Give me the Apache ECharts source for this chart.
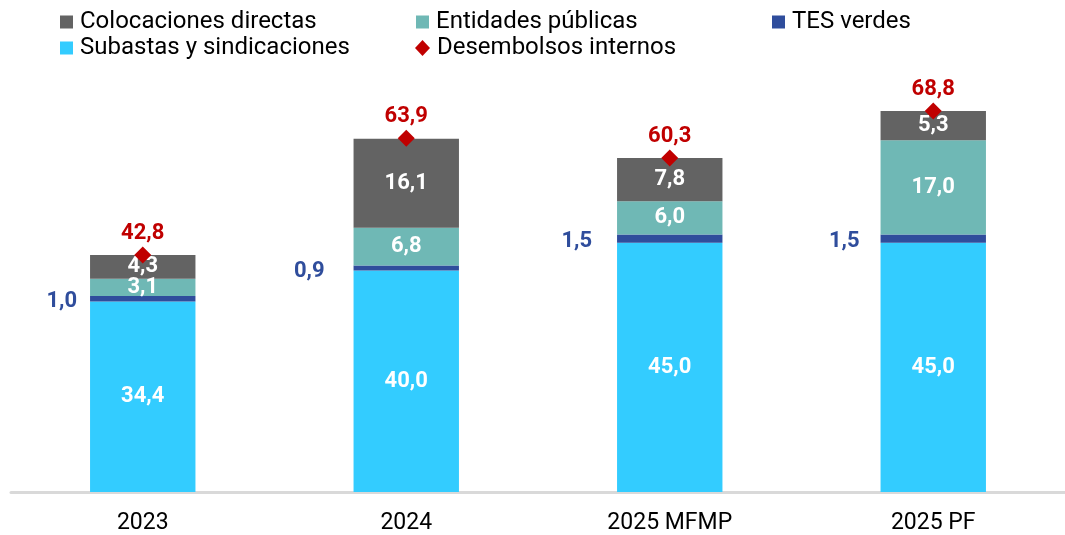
<!DOCTYPE html>
<html><head><meta charset="utf-8">
<script src="https://cdn.jsdelivr.net/npm/echarts@6/dist/echarts.min.js"></script>
<style>html,body{margin:0;padding:0;background:#fff}#c{width:1065px;height:535px}</style>
</head><body><div id="c"></div>
<script>
const categories = ['2023', '2024', '2025 MFMP', '2025 PF'];
const subastas = [34.4, 40.0, 45.0, 45.0];
const tesVerdes = [1.0, 0.9, 1.5, 1.5];
const entidades = [3.1, 6.8, 6.0, 17.0];
const colocaciones = [4.3, 16.1, 7.8, 5.3];
const desembolsos = [42.8, 63.9, 60.3, 68.8];
// label gaps (styling) for the TES verdes labels, left of each bar
const tesLabelGap = [13, 29, 25, 21];

const fmt = v => v.toFixed(1).replace('.', ',');
const font = 'Roboto';
const inLabel = {show: true, position: 'inside', color: '#fff', fontFamily: font, fontWeight: 'bold', fontSize: 22,
  formatter: p => fmt(p.value)};

const chart = echarts.init(document.getElementById('c'));
const legendBase = {orient: 'vertical', top: 10, padding: 0, itemWidth: 13, itemHeight: 13, itemGap: 2,
  textStyle: {fontFamily: font, fontSize: 24, lineHeight: 24, color: '#000', padding: [0, 0, 0, 2]}};
chart.setOption({
  animation: false,
  legend: [
    Object.assign({}, legendBase, {left: 60, data: [{name: 'Colocaciones directas', icon: 'rect'}, {name: 'Subastas y sindicaciones', icon: 'rect'}]}),
    Object.assign({}, legendBase, {left: 416, data: [{name: 'Entidades públicas', icon: 'rect'}]}),
    Object.assign({}, legendBase, {left: 415, top: 36, itemWidth: 15, itemHeight: 16, data: [{name: 'Desembolsos internos', icon: 'diamond'}]}),
    Object.assign({}, legendBase, {left: 772, data: [{name: 'TES verdes', icon: 'rect'}]})
  ],
  grid: {left: 11, right: 0, top: 49, bottom: 43, containLabel: false},
  xAxis: {type: 'category', data: categories,
    axisLine: {lineStyle: {color: '#d9d9d9', width: 3}}, axisTick: {show: false},
    axisLabel: {color: '#000', fontFamily: font, fontSize: 23, margin: 20}},
  yAxis: {type: 'value', min: 0, max: 80, show: false, splitLine: {show: false}},
  series: [
    {name: 'Subastas y sindicaciones', type: 'bar', stack: 't', barWidth: '40%', data: subastas,
      itemStyle: {color: '#33CCFF'}, label: inLabel},
    {name: 'TES verdes', type: 'bar', stack: 't', itemStyle: {color: '#2F4D9C'},
      data: tesVerdes.map((v, i) => ({value: v, label: {distance: tesLabelGap[i]}})),
      label: {show: true, position: 'left', offset: [0, 3], color: '#2F4D9C', fontFamily: font, fontWeight: 'bold', fontSize: 22,
        formatter: p => fmt(p.value)}},
    {name: 'Entidades públicas', type: 'bar', stack: 't', data: entidades, itemStyle: {color: '#6FB8B5'}, label: inLabel},
    {name: 'Colocaciones directas', type: 'bar', stack: 't', data: colocaciones, itemStyle: {color: '#636363'}, label: inLabel},
    {name: 'Desembolsos internos', type: 'line', data: desembolsos, symbol: 'diamond', symbolSize: 17,
      lineStyle: {opacity: 0}, itemStyle: {color: '#C00000'}, z: 10,
      label: {show: true, position: 'top', distance: 2, color: '#C00000', fontFamily: font, fontWeight: 'bold', fontSize: 22,
        formatter: p => fmt(p.value)}}
  ]
});
</script></body></html>
